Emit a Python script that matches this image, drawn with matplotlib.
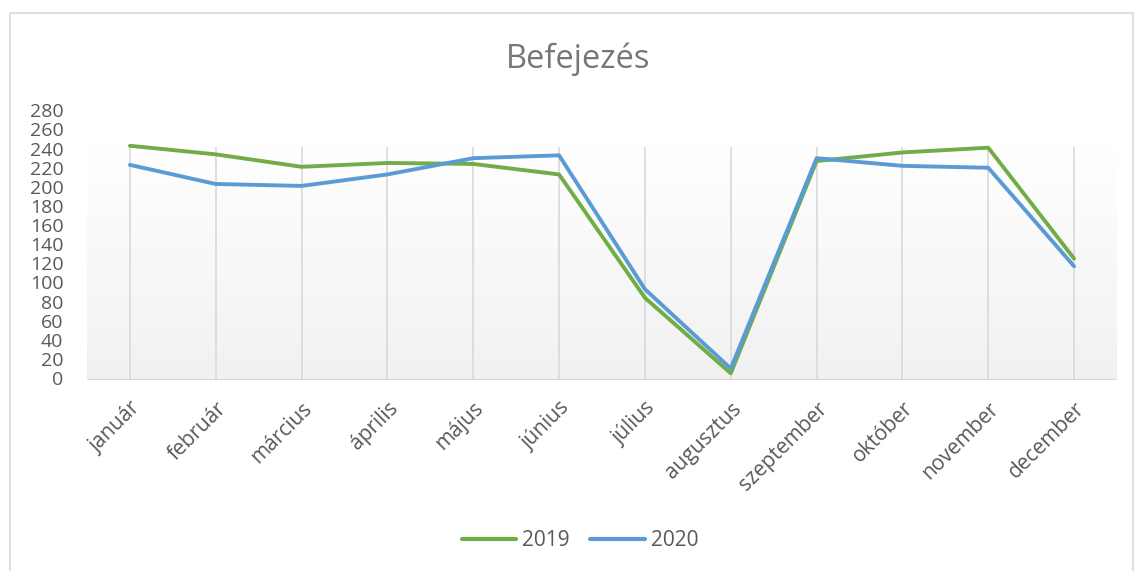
import numpy as np
import matplotlib.pyplot as plt
from matplotlib.colors import LinearSegmentedColormap
from matplotlib.patches import Rectangle

plt.rcParams['font.family'] = ['Open Sans', 'DejaVu Sans']

honapok = ['január', 'február', 'március', 'április', 'május', 'június',
           'július', 'augusztus', 'szeptember', 'október', 'november', 'december']
ev2019 = [245, 236, 223, 227, 226, 215, 86, 7, 229, 238, 243, 127]
ev2020 = [225, 205, 203, 215, 232, 235, 95, 12, 232, 224, 222, 119]
yticks = list(range(0, 281, 20))

W, H = 1134, 571
fig = plt.figure(figsize=(W / 100, H / 100), dpi=100)
fig.patches.append(Rectangle((9.5 / W, -0.05), (1133 - 9.5) / W, 1.05 - 13 / H,
                             transform=fig.transFigure, fill=False,
                             edgecolor='#d9d9d9', lw=1.2))

ax = fig.add_axes([87 / W, 1 - 380 / H, (1117 - 87) / W, (380 - 112.3) / H])
x = np.arange(len(honapok))
ax.set_xlim(-0.5, len(honapok) - 0.5)
ax.set_ylim(0, 280)
ytop = 243.7  # plot area top in Excel sits below the 280 label

# gradient fill of the plot area
cmap = LinearSegmentedColormap.from_list('g', ['#ffffff', '#f1f1f1'])
grad = np.linspace(0, 1, 256).reshape(-1, 1)
ax.imshow(grad, cmap=cmap, aspect='auto', extent=(-0.5, len(honapok) - 0.5, 0, ytop),
          origin='upper', zorder=0)
ax.vlines(x, 0, ytop, color='#d9d9d9', lw=1.2, zorder=1)
ax.axhline(0, color='#d9d9d9', lw=1.5, zorder=1)

ax.plot(x, ev2019, color='#70ad47', lw=2.8, label='2019', zorder=3,
        solid_capstyle='round', solid_joinstyle='round')
ax.plot(x, ev2020, color='#5b9bd5', lw=2.8, label='2020', zorder=4,
        solid_capstyle='round', solid_joinstyle='round')

for s in ax.spines.values():
    s.set_visible(False)
ax.set_yticks(yticks)
ax.set_xticks(x)
ax.set_xticklabels(honapok, rotation=45, ha='right', rotation_mode='anchor')
ax.tick_params(axis='both', length=0, colors='#595959', labelsize=14)
ax.tick_params(axis='x', pad=13, labelsize=15)
ax.tick_params(axis='y', pad=17)
for t in ax.get_yticklabels():
    t.set_verticalalignment('center')

fig.text(578 / W, 1 - 68 / H, 'Befejezés', ha='center', va='baseline',
         fontsize=23.5, color='#767676')

leg = fig.legend(loc='center', bbox_to_anchor=(580 / W, 1 - 541 / H), ncol=2,
                 frameon=False, fontsize=15, handlelength=2.6,
                 columnspacing=1.0, handletextpad=0.3)
for t in leg.get_texts():
    t.set_color('#595959')
for l in leg.get_lines():
    l.set_linewidth(3)

fig.savefig('out.png', dpi=100)
